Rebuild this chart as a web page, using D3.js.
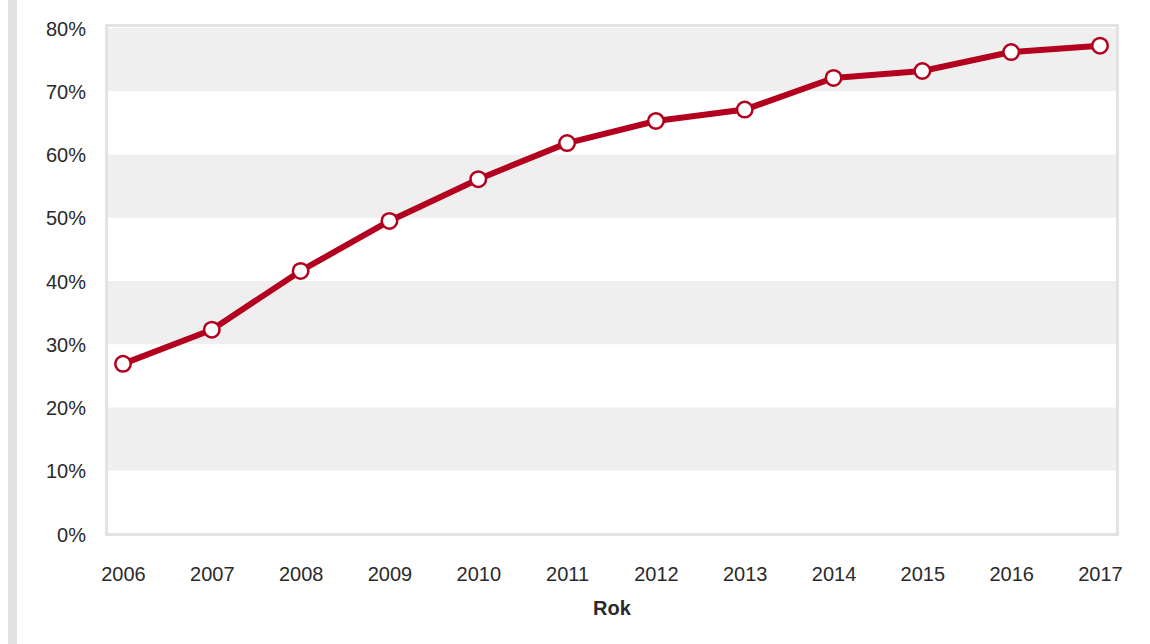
<!DOCTYPE html>
<html>
<head>
<meta charset="utf-8">
<script src="https://cdn.jsdelivr.net/npm/d3@7"></script>
<style>
  html, body { margin: 0; padding: 0; background: #fff; }
  svg { display: block; font-family: "Liberation Sans", Arial, sans-serif; }
</style>
</head>
<body>
<svg id="chart" width="1150" height="644"></svg>
<script>
// Share per year (percent)
const years = [2006, 2007, 2008, 2009, 2010, 2011, 2012, 2013, 2014, 2015, 2016, 2017];
const shares = [26.9, 32.3, 41.6, 49.5, 56.1, 61.8, 65.3, 67.1, 72.1, 73.2, 76.2, 77.2];
const yTicks = [0, 10, 20, 30, 40, 50, 60, 70, 80];
const xTitle = "Rok";

const svg = d3.select("#chart");

// plot frame
const frame = { left: 106.5, right: 1117.5, top: 25.5, bottom: 534.5 };

const x = d3.scalePoint()
  .domain(years)
  .range([123, 1100]);

const y = d3.scaleLinear()
  .domain([0, 80])
  .range([534, 28]);

// left decorative strip
svg.append("rect")
  .attr("x", 8).attr("y", 0)
  .attr("width", 9).attr("height", 644)
  .attr("fill", "#e2e2e2");

// alternating horizontal bands
const bands = d3.pairs(yTicks).filter((d, i) => i % 2 === 1);
svg.append("g")
  .selectAll("rect")
  .data(bands)
  .join("rect")
  .attr("x", frame.left)
  .attr("width", frame.right - frame.left)
  .attr("y", d => y(d[1]))
  .attr("height", d => y(d[0]) - y(d[1]))
  .attr("fill", "#efefef");

// frame border
svg.append("rect")
  .attr("x", frame.left).attr("y", frame.top)
  .attr("width", frame.right - frame.left)
  .attr("height", frame.bottom - frame.top)
  .attr("fill", "none")
  .attr("stroke", "#e3e3e3")
  .attr("stroke-width", 3);

// y axis labels
const yAxis = d3.axisLeft(y)
  .tickValues(yTicks)
  .tickFormat(d => d + "%")
  .tickSize(0)
  .tickPadding(0);
const gy = svg.append("g")
  .attr("transform", "translate(86,0)")
  .call(yAxis);
gy.select(".domain").remove();
gy.selectAll("text")
  .attr("font-size", 20)
  .attr("font-family", "Liberation Sans, Arial, sans-serif")
  .attr("fill", "#2a2a2a")
  .attr("dy", "0.36em");

// x axis labels
const xAxis = d3.axisBottom(x)
  .tickSize(0)
  .tickPadding(0);
const gx = svg.append("g")
  .attr("transform", "translate(0,570)")
  .call(xAxis);
gx.select(".domain").remove();
gx.selectAll("text")
  .attr("font-size", 20)
  .attr("font-family", "Liberation Sans, Arial, sans-serif")
  .attr("fill", "#2a2a2a")
  .attr("dy", "0.55em");

// x axis title
svg.append("text")
  .attr("x", 612)
  .attr("y", 615)
  .attr("text-anchor", "middle")
  .attr("font-size", 20)
  .attr("font-weight", "bold")
  .attr("fill", "#2a2a2a")
  .text(xTitle);

// data line
const pts = years.map((yr, i) => [x(yr), y(shares[i])]);
svg.append("path")
  .attr("d", d3.line()(pts))
  .attr("fill", "none")
  .attr("stroke", "#b3001f")
  .attr("stroke-width", 6)
  .attr("stroke-linejoin", "round");

// markers
svg.append("g")
  .selectAll("circle")
  .data(pts)
  .join("circle")
  .attr("cx", d => d[0])
  .attr("cy", d => d[1])
  .attr("r", 7.75)
  .attr("fill", "#fff")
  .attr("stroke", "#b3001f")
  .attr("stroke-width", 2.5);
</script>
</body>
</html>
